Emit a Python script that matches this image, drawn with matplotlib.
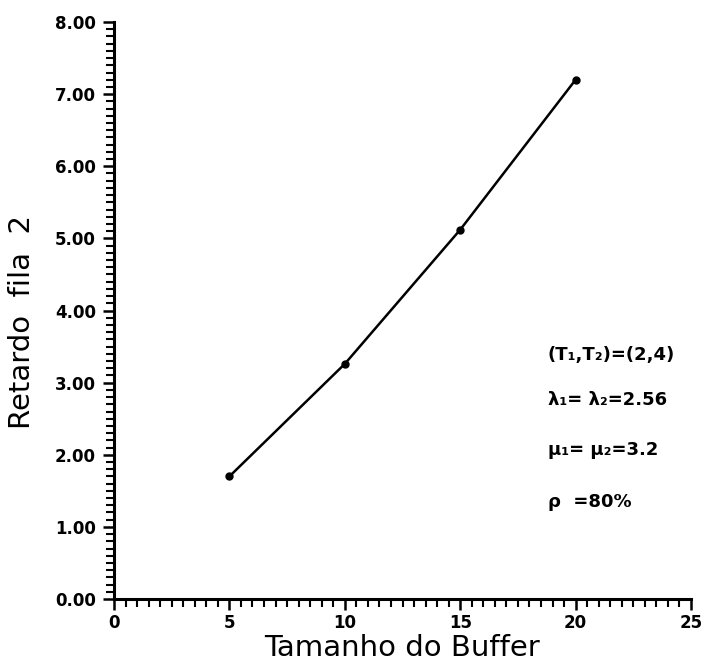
import matplotlib
matplotlib.use("Agg")
import matplotlib.pyplot as plt
from matplotlib.ticker import MultipleLocator, FormatStrFormatter

buffer_size = [5, 10, 15, 20]
delay_q2 = [1.70, 3.26, 5.12, 7.20]
x_ticks = [0, 5, 10, 15, 20, 25]
y_ticks = [0, 1, 2, 3, 4, 5, 6, 7, 8]
annotations = ["(T₁,T₂)=(2,4)", "λ₁= λ₂=2.56", "μ₁= μ₂=3.2", "ρ  =80%"]

plt.rcParams['font.family'] = ['DejaVu Sans']
fig = plt.figure(figsize=(7.07, 6.67), dpi=100)
left, right = 114 / 707, 691 / 707
ax = fig.add_axes([left, 0.1019, right - left, 0.8651])

ax.plot(buffer_size, delay_q2, color='black', lw=1.8, marker='o', ms=5,
        markerfacecolor='black', markeredgecolor='black')

ax.set_xlim(0, 25)
ax.set_ylim(0, 8)
ax.set_xticks(x_ticks)
ax.set_yticks(y_ticks)
ax.xaxis.set_minor_locator(MultipleLocator(0.5))
ax.yaxis.set_minor_locator(MultipleLocator(0.1))
ax.yaxis.set_major_formatter(FormatStrFormatter('%.2f'))

for s in ['top', 'right']:
    ax.spines[s].set_visible(False)
for s in ['left', 'bottom']:
    ax.spines[s].set_linewidth(2.2)

ax.tick_params(axis='both', which='major', direction='out', length=8, width=1.8,
               labelsize=12, colors='black')
ax.tick_params(axis='both', which='minor', direction='out', length=6, width=1.5)
for lbl in ax.get_xticklabels() + ax.get_yticklabels():
    lbl.set_fontweight('bold')
ax.tick_params(axis='y', which='major', pad=5)
ax.tick_params(axis='x', which='major', pad=3)

ax.set_xlabel('Tamanho do Buffer', fontsize=21)
ax.set_ylabel('Retardo  fila  2', fontsize=21)
ax.xaxis.set_label_coords(0.5, -0.060)
ax.yaxis.set_label_coords(-0.135, 0.48)

ys = [0.423, 0.345, 0.258, 0.168]
for t, yy in zip(annotations, ys):
    ax.text(0.752, yy, t, transform=ax.transAxes, fontsize=13, fontweight='bold',
            va='center', ha='left')

fig.savefig('out.png', dpi=100)
